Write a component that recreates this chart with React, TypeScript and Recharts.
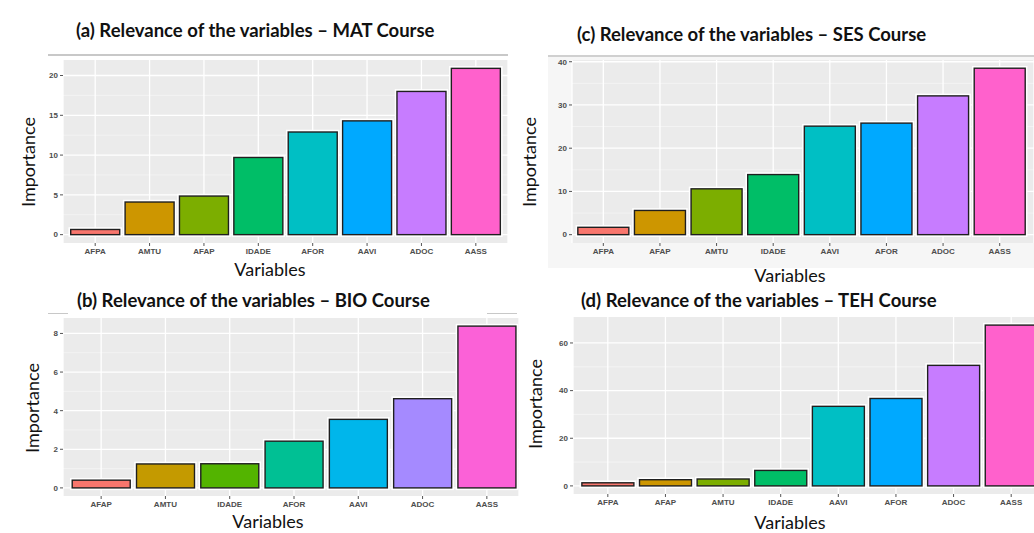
import React from 'react';
import { BarChart, Bar, XAxis, YAxis, CartesianGrid, Cell } from 'recharts';

// (a) MAT
const matVars = ['AFPA', 'AMTU', 'AFAP', 'IDADE', 'AFOR', 'AAVI', 'ADOC', 'AASS'];
const matValues = [0.65, 4.1, 4.85, 9.7, 12.9, 14.3, 18.0, 20.9];
const matTicks = [0, 5, 10, 15, 20];
const matMinor = [2.5, 7.5, 12.5, 17.5];

// (c) SES
const sesVars = ['AFPA', 'AFAP', 'AMTU', 'IDADE', 'AAVI', 'AFOR', 'ADOC', 'AASS'];
const sesValues = [1.7, 5.6, 10.6, 13.9, 25.1, 25.8, 32.1, 38.5];
const sesTicks = [0, 10, 20, 30, 40];
const sesMinor = [5, 15, 25, 35];

// (b) BIO
const bioVars = ['AFAP', 'AMTU', 'IDADE', 'AFOR', 'AAVI', 'ADOC', 'AASS'];
const bioValues = [0.4, 1.24, 1.25, 2.42, 3.55, 4.62, 8.38];
const bioTicks = [0, 2, 4, 6, 8];
const bioMinor = [1, 3, 5, 7];

// (d) TEH
const tehVars = ['AFPA', 'AFAP', 'AMTU', 'IDADE', 'AAVI', 'AFOR', 'ADOC', 'AASS'];
const tehValues = [1.3, 2.6, 2.9, 6.5, 33.4, 36.7, 50.6, 67.5];
const tehTicks = [0, 20, 40, 60];
const tehMinor = [10, 30, 50];

const hue8 = ['#F8766D', '#CD9600', '#7CAE00', '#00BE67', '#00BFC4', '#00A9FF', '#C77CFF', '#FF61CC'];
const hue7 = ['#F8766D', '#C49A00', '#53B400', '#00C094', '#00B6EB', '#A58AFF', '#FB61D7'];

const TITLE_FONT = 'Lato, "Open Sans", sans-serif';
const TICK_FONT = '"Liberation Sans", Arial, sans-serif';

const OutlinedBar = (props: any) => {
  const { x, y, width, height, fill } = props;
  if (width == null || height == null) return null;
  return (
    <g>
      <rect x={x} y={y} width={width} height={height} fill="none" stroke="#ffffff" strokeWidth={4.5} />
      <rect x={x} y={y} width={width} height={height} fill={fill} stroke="#1f1f1f" strokeWidth={1.4} />
    </g>
  );
};

type PanelProps = {
  cats: string[];
  values: number[];
  colors: string[];
  ticks: number[];
  minor: number[];
  domain: [number, number];
  plot: { left: number; top: number; right: number; bottom: number };
  pad: { left: number; right: number };
};

const Panel = ({ cats, values, colors, ticks, minor, domain, plot, pad }: PanelProps) => {
  const data = cats.map((c, i) => ({ name: c, value: values[i] }));
  const yW = 40;
  const width = plot.right - plot.left + yW + 2;
  const height = plot.bottom - plot.top + 10 + 20;
  // grid line positions follow the y axis mapping of the plot area
  const gridAt = (vals: number[]) => (args: any) => {
    const s = args?.yAxis?.scale;
    if (typeof s === 'function') return vals.map(v => s(v));
    if (s && typeof s.map === 'function') return vals.map(v => s.map(v));
    const off = args?.offset ?? { top: 10, height: plot.bottom - plot.top };
    return vals.map(v => off.top + ((domain[1] - v) / (domain[1] - domain[0])) * off.height);
  };
  return (
    <div style={{ position: 'absolute', left: plot.left - yW, top: plot.top - 10 }}>
      <BarChart
        width={width}
        height={height}
        data={data}
        margin={{ top: 10, right: 2, left: 0, bottom: 0 }}
        barCategoryGap="5%"
      >
        <CartesianGrid
          fill="#EBEBEB"
          stroke="#F7F7F7"
          strokeWidth={0.7}
          vertical={false}
          horizontalCoordinatesGenerator={gridAt(minor)}
        />
        <CartesianGrid
          stroke="#ffffff"
          strokeWidth={1.3}
          horizontalCoordinatesGenerator={gridAt(ticks)}
        />
        <XAxis
          dataKey="name"
          type="category"
          interval={0}
          height={20}
          padding={{ left: pad.left, right: pad.right }}
          axisLine={false}
          tickSize={3}
          tickMargin={2}
          tickLine={{ stroke: '#555' }}
          tick={{ fontSize: 8, fill: '#4D4D4D', fontFamily: TICK_FONT, fontWeight: 700 }}
        />
        <YAxis
          width={yW}
          type="number"
          domain={domain}
          ticks={ticks}
          allowDataOverflow
          axisLine={false}
          tickSize={3}
          tickMargin={2}
          tickLine={{ stroke: '#555' }}
          tick={{ fontSize: 8, fill: '#4D4D4D', fontFamily: TICK_FONT, fontWeight: 700 }}
        />
        <Bar dataKey="value" isAnimationActive={false} shape={<OutlinedBar />}>
          {data.map((d, i) => (
            <Cell key={d.name} fill={colors[i]} />
          ))}
        </Bar>
      </BarChart>
    </div>
  );
};

const Text = ({ x, y, children, size, bold }: any) => (
  <div
    style={{
      position: 'absolute',
      left: x,
      top: y,
      fontFamily: TITLE_FONT,
      fontSize: size,
      fontWeight: bold ? 700 : 400,
      color: '#111',
      whiteSpace: 'nowrap',
      lineHeight: 1,
    }}
  >
    {children}
  </div>
);

const VText = ({ cx, cy, children }: any) => (
  <div
    style={{
      position: 'absolute',
      left: cx,
      top: cy,
      transform: 'translate(-50%, -50%) rotate(-90deg)',
      fontFamily: TITLE_FONT,
      fontSize: 18,
      color: '#111',
      whiteSpace: 'nowrap',
      lineHeight: 1,
    }}
  >
    {children}
  </div>
);

const CText = ({ cx, cy, children }: any) => (
  <div
    style={{
      position: 'absolute',
      left: cx,
      top: cy,
      transform: 'translate(-50%, -50%)',
      fontFamily: TITLE_FONT,
      fontSize: 18,
      color: '#111',
      whiteSpace: 'nowrap',
      lineHeight: 1,
    }}
  >
    {children}
  </div>
);

export default function App() {
  return (
    <div
      style={{
        position: 'absolute',
        left: 0,
        top: 0,
        width: 1034,
        height: 533,
        overflow: 'hidden',
        background: '#ffffff',
      }}
    >
      {/* panel backdrops */}
      <div style={{ position: 'absolute', left: 48, top: 54, width: 460, height: 2, background: '#C8C8C8' }} />
      <div style={{ position: 'absolute', left: 548, top: 55, width: 486, height: 211, background: '#F6F6F6', borderTop: '2px solid #D0D0D0' }} />
      <div style={{ position: 'absolute', left: 48, top: 313, width: 20, height: 1, background: '#C8C8C8' }} />
      <div style={{ position: 'absolute', left: 487, top: 313, width: 30, height: 1, background: '#C8C8C8' }} />

      <Text x={76} y={21} size={18.5} bold>(a) Relevance of the variables – MAT Course</Text>
      <Text x={577} y={25} size={18.5} bold>(c) Relevance of the variables – SES Course</Text>
      <Text x={77} y={291} size={18.5} bold>(b) Relevance of the variables – BIO Course</Text>
      <Text x={581} y={291} size={18.5} bold>(d) Relevance of the variables – TEH Course</Text>

      <Panel
        cats={matVars}
        values={matValues}
        colors={hue8}
        ticks={matTicks}
        minor={matMinor}
        domain={[-1.05, 21.95]}
        plot={{ left: 63, top: 60, right: 508, bottom: 243 }}
        pad={{ left: 5, right: 5 }}
      />
      <Panel
        cats={sesVars}
        values={sesValues}
        colors={hue8}
        ticks={sesTicks}
        minor={sesMinor}
        domain={[-1.93, 40.4]}
        plot={{ left: 572, top: 60, right: 1034, bottom: 243 }}
        pad={{ left: 3, right: 6 }}
      />
      <Panel
        cats={bioVars}
        values={bioValues}
        colors={hue7}
        ticks={bioTicks}
        minor={bioMinor}
        domain={[-0.42, 8.8]}
        plot={{ left: 63, top: 318, right: 519, bottom: 496 }}
        pad={{ left: 6, right: 0 }}
      />
      <Panel
        cats={tehVars}
        values={tehValues}
        colors={hue8}
        ticks={tehTicks}
        minor={tehMinor}
        domain={[-3.4, 70.9]}
        plot={{ left: 573, top: 317, right: 1040, bottom: 494 }}
        pad={{ left: 6, right: 0 }}
      />

      <VText cx={28} cy={162}>Importance</VText>
      <VText cx={529} cy={162}>Importance</VText>
      <VText cx={32} cy={408}>Importance</VText>
      <VText cx={535} cy={404}>Importance</VText>

      <CText cx={270} cy={269}>Variables</CText>
      <CText cx={790} cy={275}>Variables</CText>
      <CText cx={268} cy={521}>Variables</CText>
      <CText cx={790} cy={522}>Variables</CText>
    </div>
  );
}
